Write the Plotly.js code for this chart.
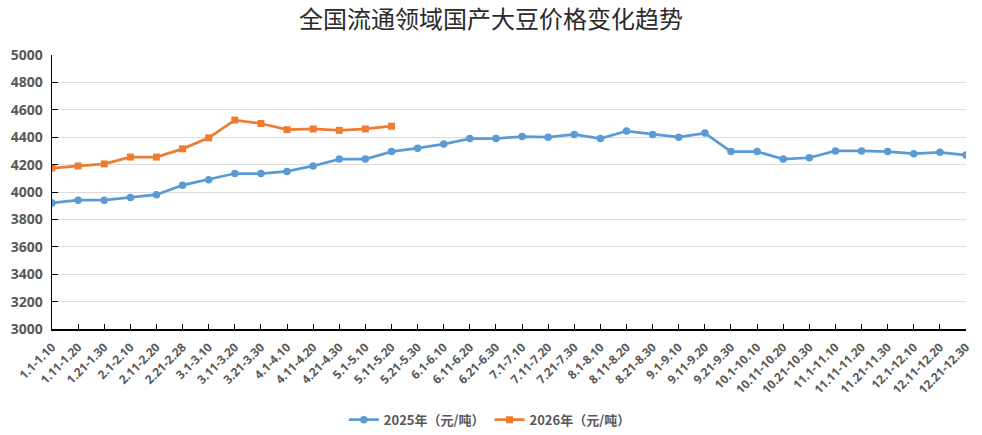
<!DOCTYPE html>
<html>
<head>
<meta charset="utf-8">
<script src="https://cdn.plot.ly/plotly-3.0.1.min.js"></script>
<style>
  html, body { margin: 0; padding: 0; background: #fff; }
  #chart { width: 982px; height: 435px; }
</style>
</head>
<body>
<div id="chart"></div>
<script>
// Ten-day periods across the year
const periods = [
  "1.1-1.10", "1.11-1.20", "1.21-1.30", "2.1-2.10", "2.11-2.20", "2.21-2.28",
  "3.1-3.10", "3.11-3.20", "3.21-3.30", "4.1-4.10", "4.11-4.20", "4.21-4.30",
  "5.1-5.10", "5.11-5.20", "5.21-5.30", "6.1-6.10", "6.11-6.20", "6.21-6.30",
  "7.1-7.10", "7.11-7.20", "7.21-7.30", "8.1-8.10", "8.11-8.20", "8.21-8.30",
  "9.1-9.10", "9.11-9.20", "9.21-9.30", "10.1-10.10", "10.11-10.20", "10.21-10.30",
  "11.1-11.10", "11.11-11.20", "11.21-11.30", "12.1-12.10", "12.11-12.20", "12.21-12.30"
];

// Prices, yuan per tonne
const price2025 = [
  3920, 3940, 3940, 3960, 3980, 4050, 4090, 4135, 4135, 4150, 4190, 4240,
  4240, 4295, 4320, 4350, 4390, 4390, 4405, 4400, 4420, 4390, 4445, 4420,
  4400, 4430, 4295, 4295, 4240, 4250, 4300, 4300, 4295, 4280, 4290, 4270
];
const price2026 = [
  4175, 4190, 4205, 4255, 4255, 4315, 4395, 4525, 4500, 4455, 4460, 4450,
  4460, 4480
];

const name2025 = "2025年（元/吨）";
const name2026 = "2026年（元/吨）";
const yTicks = [3000, 3200, 3400, 3600, 3800, 4000, 4200, 4400, 4600, 4800, 5000];

const traces = [
  {
    type: "scatter", mode: "lines+markers", name: name2025,
    x: periods, y: price2025,
    line: { color: "#5B9BD5", width: 2.75 },
    marker: { symbol: "circle", size: 7.5, color: "#5B9BD5" }
  },
  {
    type: "scatter", mode: "lines+markers", name: name2026,
    x: periods.slice(0, price2026.length), y: price2026,
    line: { color: "#ED7D31", width: 2.75 },
    marker: { symbol: "square", size: 7, color: "#ED7D31" }
  }
];

const layout = {
  width: 982, height: 435,
  margin: { l: 52, r: 16, t: 55, b: 106 },
  paper_bgcolor: "#ffffff", plot_bgcolor: "#ffffff",
  showlegend: true,
  title: {
    text: "全国流通领域国产大豆价格变化趋势",
    font: { family: "Noto Sans CJK SC", size: 24, color: "#2b2b2b" },
    x: 0.5, xref: "container", xanchor: "center",
    y: 0.954, yref: "container", yanchor: "middle",
    automargin: false
  },
  xaxis: {
    type: "category",
    categoryorder: "array", categoryarray: periods,
    range: [0, periods.length - 1],
    automargin: false,
    tickangle: -45,
    ticklabelstandoff: 5,
    tickfont: { family: "Open Sans", size: 12, color: "#595959", weight: "bold" },
    showline: true, linecolor: "#000000", linewidth: 1.5,
    ticks: "inside", ticklen: 5, tickcolor: "#000000", tickwidth: 1,
    showgrid: false, zeroline: false,
    fixedrange: true
  },
  yaxis: {
    range: [3000, 5000],
    automargin: false,
    tickvals: yTicks,
    ticklabelstandoff: 5,
    tickfont: { family: "Open Sans", size: 14, color: "#595959", weight: "bold" },
    showline: true, linecolor: "#000000", linewidth: 1.5,
    ticks: "inside", ticklen: 6, tickcolor: "#000000", tickwidth: 1,
    showgrid: true, gridcolor: "#dcdcdc", gridwidth: 1,
    zeroline: false,
    fixedrange: true
  },
  legend: {
    orientation: "h",
    x: 0.479, xanchor: "center", xref: "paper",
    y: 0.035, yanchor: "middle", yref: "container",
    font: { family: "Noto Sans CJK SC", size: 13, color: "#595959", weight: "bold" },
    itemwidth: 30
  }
};

Plotly.newPlot("chart", traces, layout, { displayModeBar: false, staticPlot: true });
</script>
</body>
</html>
